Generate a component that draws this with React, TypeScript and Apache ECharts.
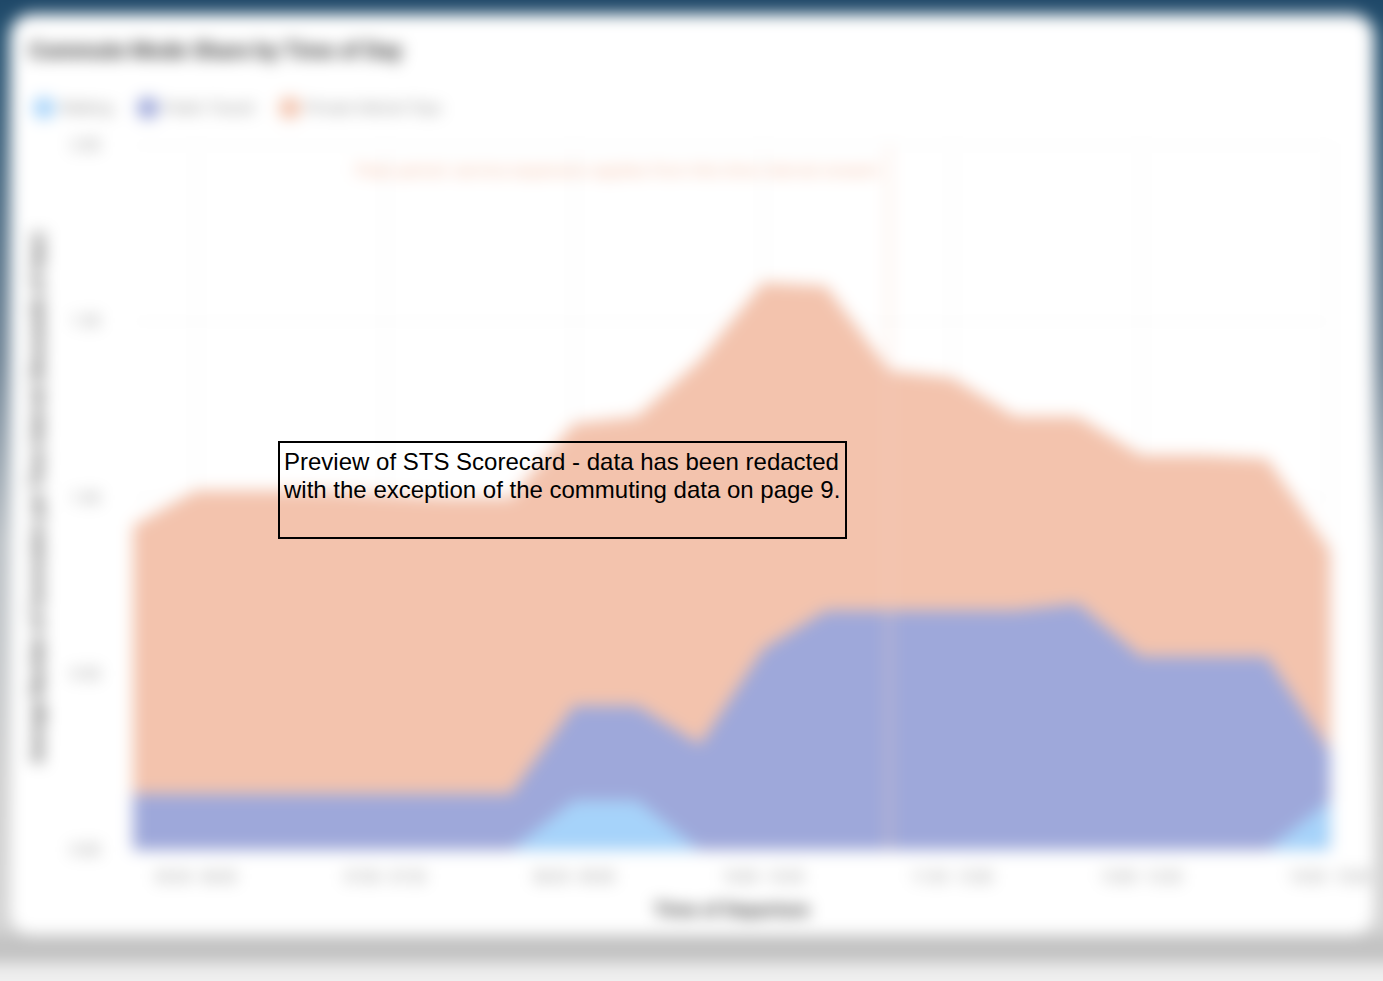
import React, { useEffect, useRef } from "react";
import * as echarts from "echarts";

const TITLE = "Commute Mode Share by Time of Day";
const X_TITLE = "Time of Departure";
const Y_TITLE = "Average Number of Commuters per Time Interval (thousands of trips)";
const NOTE_TEXT = "Peak period: service expansion applies from this time interval onward";
const OVERLAY_TEXT = "Preview of STS Scorecard - data has been redacted\nwith the exception of the commuting data on page 9.";

const categories = [
  "05:00 - 05:30", "05:30 - 06:00", "06:00 - 06:30", "06:30 - 07:00", "07:00 - 07:30",
  "07:30 - 08:00", "08:00 - 08:30", "08:30 - 09:00", "09:00 - 09:30", "09:30 - 10:00",
  "10:00 - 10:30", "10:30 - 11:00", "11:00 - 11:30", "11:30 - 12:00", "12:00 - 12:30",
  "12:30 - 13:00", "13:00 - 13:30", "13:30 - 14:00", "14:00 - 14:30", "14:30 - 15:00",
];
const seriesNames = ["Walking", "Public Transit", "Private Vehicle Trips"];
const walking = [0, 0, 0, 0, 0, 0, 0, 0.14, 0.14, 0, 0, 0, 0, 0, 0, 0, 0, 0, 0, 0.14];
const transit = [0.16, 0.16, 0.16, 0.16, 0.16, 0.16, 0.16, 0.27, 0.27, 0.3, 0.57, 0.68, 0.68, 0.68, 0.68, 0.7, 0.55, 0.55, 0.55, 0.14];
const vehicle = [0.76, 0.86, 0.86, 0.86, 0.85, 0.84, 0.84, 0.8, 0.82, 1.09, 1.04, 0.92, 0.68, 0.66, 0.55, 0.53, 0.57, 0.57, 0.56, 0.57];
const yTicks = [0, 0.5, 1.0, 1.5, 2.0];
const colors = ["#a6d3fa", "#9ea8da", "#f3c3ad"];

function MainChart() {
  const ref = useRef<HTMLDivElement>(null);
  useEffect(() => {
    const chart = echarts.init(ref.current!, null, { renderer: "svg" });
    const data = [walking, transit, vehicle];
    chart.setOption({
      animation: false,
      backgroundColor: "transparent",
      textStyle: { fontFamily: "Roboto" },
      title: {
        text: TITLE,
        left: 24,
        top: 34,
        textStyle: { fontSize: 22, fontWeight: "bold", color: "#3a3a3a", fontFamily: "Roboto" },
      },
      legend: {
        left: 28,
        top: 92,
        icon: "circle",
        itemWidth: 22,
        itemHeight: 22,
        itemGap: 24,
        textStyle: { color: "#8a8a8a", fontSize: 15 },
        data: seriesNames,
      },
      grid: { left: 133, right: 53, top: 145, bottom: 131 },
      xAxis: {
        type: "category",
        boundaryGap: false,
        data: categories,
        name: X_TITLE,
        nameLocation: "middle",
        nameGap: 50,
        nameTextStyle: { fontSize: 19, fontWeight: "bold", color: "#444" },
        axisLine: { show: false },
        axisTick: { show: false },
        axisLabel: { interval: (i: number) => i % 3 === 1, color: "#8c8c8c", fontSize: 14, margin: 20 },
        splitLine: { show: true, interval: (i: number) => i % 3 === 1, lineStyle: { color: "#e8e8e8" } },
      },
      yAxis: {
        type: "value",
        min: yTicks[0],
        max: yTicks[yTicks.length - 1],
        interval: 0.5,
        name: Y_TITLE,
        nameLocation: "middle",
        nameGap: 88,
        nameTextStyle: { fontSize: 17, fontWeight: "bold", color: "#444" },
        axisLine: { show: false },
        axisTick: { show: false },
        axisLabel: { formatter: (v: number) => v.toFixed(2), color: "#8c8c8c", fontSize: 15, margin: 33 },
        splitLine: { show: true, lineStyle: { color: "#f0f0f0" } },
      },
      series: seriesNames.map((name, k) => ({
        name,
        type: "line",
        stack: "total",
        data: data[k],
        showSymbol: false,
        symbol: "none",
        lineStyle: { width: 0 },
        itemStyle: { color: colors[k] },
        areaStyle: { color: colors[k], opacity: 1 },
        markLine:
          k === 2
            ? {
                silent: true,
                symbol: "none",
                label: { show: false },
                lineStyle: { color: "#f5d2c2", width: 2, type: "solid" },
                data: [{ xAxis: categories[12] }],
              }
            : undefined,
      })),
      graphic: [
        {
          type: "text",
          right: 1383 - 878,
          top: 161,
          style: { text: NOTE_TEXT, fill: "#f4bda4", fontSize: 17, fontFamily: "Roboto" },
        },
      ],
    });
    return () => chart.dispose();
  }, []);
  return <div ref={ref} style={{ position: "absolute", left: 20, top: 20, width: 1383, height: 981 }} />;
}

function OverlayChart() {
  const ref = useRef<HTMLDivElement>(null);
  useEffect(() => {
    const chart = echarts.init(ref.current!, null, { renderer: "svg" });
    chart.setOption({
      animation: false,
      backgroundColor: "transparent",
      graphic: [
        {
          type: "rect",
          shape: { x: 279, y: 442, width: 567, height: 96 },
          style: { fill: "none", stroke: "#000", lineWidth: 2 },
        },
        {
          type: "text",
          x: 284,
          y: 447,
          style: {
            text: OVERLAY_TEXT,
            fill: "#000",
            fontSize: 24,
            lineHeight: 28,
            fontFamily: "Liberation Sans, Arial, sans-serif",
            verticalAlign: "top",
          },
        },
      ],
    });
    return () => chart.dispose();
  }, []);
  return <div ref={ref} style={{ position: "absolute", left: 0, top: 0, width: 1383, height: 981 }} />;
}

export default function App() {
  return (
    <div style={{ position: "absolute", left: 0, top: 0, width: 1383, height: 981, overflow: "hidden", background: "#fff" }}>
      <div
        style={{
          position: "absolute",
          left: -20,
          top: -20,
          width: 1423,
          height: 1021,
          filter: "blur(8px)",
          background: "linear-gradient(to bottom, #1b4263 0px, #24506f 50px, #6d8294 380px, #b9bfc4 560px, #cfcfcf 800px, #d6d6d6 100%)",
        }}
      >
        <div style={{ position: "absolute", left: 30, top: 34, width: 1364, height: 921, background: "#fff", borderRadius: 22 }} />
        <div style={{ position: "absolute", left: 0, top: 955, width: 1423, height: 28, background: "#c2c2c2" }} />
        <div style={{ position: "absolute", left: 0, top: 983, width: 1423, height: 40, background: "#efefef" }} />
        <MainChart />
      </div>
      <OverlayChart />
    </div>
  );
}
